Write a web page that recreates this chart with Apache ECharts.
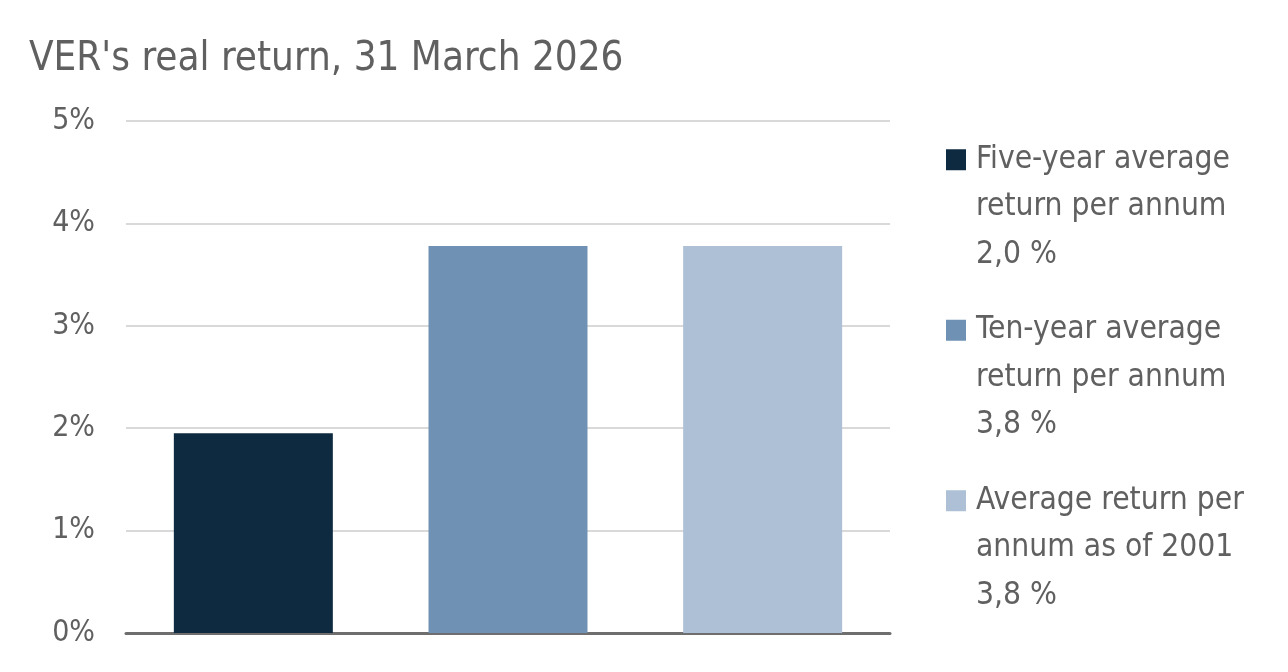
<!DOCTYPE html>
<html>
<head>
<meta charset="utf-8">
<script src="https://cdn.jsdelivr.net/npm/echarts@6/dist/echarts.min.js"></script>
<style>
html,body{margin:0;padding:0;background:#fff;}
#c{width:1288px;height:672px;}
</style>
</head>
<body>
<div id="c"></div>
<script>
var titleText = "VER's real return, 31 March 2026";
var categories = ["Five-year", "Ten-year", "Since 2001"];
var seriesNames = [
  "Five-year average\nreturn per annum\n2,0 %",
  "Ten-year average\nreturn per annum\n3,8 %",
  "Average return per\nannum as of 2001\n3,8 %"
];
var values = [1.95, 3.78, 3.78];
var colors = ["#0e2a40", "#6f91b4", "#adc0d6"];
var yTicks = [0, 1, 2, 3, 4, 5];

var FONT = "'DejaVu Sans Condensed', 'Roboto Condensed', 'Liberation Sans Narrow', sans-serif";
var TXT = "#606060";

var series = seriesNames.map(function (name, i) {
  return {
    name: name,
    type: 'bar',
    stack: 'all',
    barWidth: 159,
    itemStyle: { color: colors[i] },
    data: categories.map(function (c, j) { return j === i ? values[i] : '-'; })
  };
});

var chart = echarts.init(document.getElementById('c'));
chart.setOption({
  animation: false,
  color: colors,
  title: {
    text: titleText,
    left: 29, top: 40,
    padding: 0,
    textStyle: { fontFamily: FONT, fontSize: 40, fontWeight: 'normal', color: TXT }
  },
  legend: {
    orient: 'vertical',
    left: 946, top: 41,
    padding: 0,
    itemWidth: 20, itemHeight: 21,
    itemGap: -67,
    icon: 'rect',
    selectedMode: false,
    formatter: function (name) { return '\n\n' + name; },
    textStyle: {
      fontFamily: FONT, fontSize: 31.5, color: TXT,
      lineHeight: 47.5,
      padding: [0, 0, 0, 5]
    },
    data: seriesNames
  },
  grid: { left: 126, right: 398, top: 121, bottom: 39, containLabel: false },
  xAxis: {
    type: 'category',
    data: categories,
    axisLine: { lineStyle: { color: '#6e6e6e', width: 3 } },
    axisTick: { show: false },
    axisLabel: { show: false }
  },
  yAxis: {
    type: 'value',
    min: yTicks[0], max: yTicks[yTicks.length - 1], interval: 1,
    axisLine: { show: false },
    axisTick: { show: false },
    splitLine: { lineStyle: { color: '#d9d9d9', width: 2 } },
    axisLabel: {
      margin: 31,
      fontFamily: FONT, fontSize: 30, color: TXT,
      formatter: function (v) { return v + '%'; }
    }
  },
  series: series
});
</script>
</body>
</html>
